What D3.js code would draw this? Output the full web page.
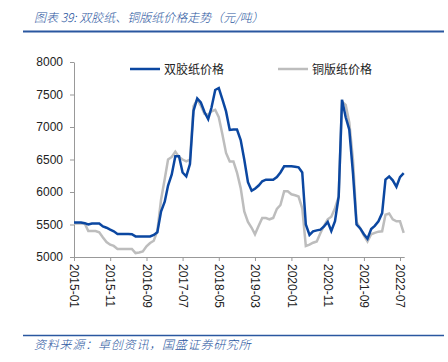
<!DOCTYPE html>
<html>
<head>
<meta charset="utf-8">
<script src="https://cdn.jsdelivr.net/npm/d3@7"></script>
<style>
  body { margin: 0; background: #fff; }
  svg { display: block; }
  .cap { font-family: "Noto Sans CJK SC", sans-serif; font-style: italic; fill: #2a56a0; font-size: 12px; font-weight: 300; }
  .axis text { font-family: "Liberation Sans", Arial, sans-serif; font-size: 12px; fill: #222; }
  .axis path, .axis line { stroke: #999; }
  .legend text { font-family: "Noto Sans CJK SC", sans-serif; font-size: 12px; fill: #222; }
</style>
</head>
<body>
<div class="chart"></div>
<script>
// monthly prices (yuan/ton), 2015-01 .. 2022-08
var startMonth = "2015-01";
var woodfree = [
  5530, 5530, 5530, 5520, 5500, 5515, 5515, 5515, 5470, 5450,
  5420, 5395, 5355, 5355, 5355, 5355, 5350, 5317, 5317, 5317,
  5317, 5317, 5340, 5380, 5700, 5850, 6100, 6270, 6550, 6550,
  6300, 6240, 6430, 7250, 7440, 7380, 7230, 7120, 7300, 7570,
  7600, 7420, 7240, 6955, 6960, 6960, 6800, 6500, 6150, 6020,
  6050, 6100, 6165, 6190, 6190, 6190, 6230, 6300, 6395, 6395,
  6395, 6390, 6380, 6300, 5500, 5340, 5395, 5410, 5420, 5470,
  5540, 5400, 5550, 5930, 7420, 7150, 6960, 6290, 5500, 5440,
  5350, 5280, 5430, 5480, 5550, 5675, 6190, 6240, 6180, 6080,
  6230, 6290
];
var coated = [
  5515, 5515, 5515, 5515, 5400, 5400, 5400, 5380, 5300, 5230,
  5190, 5170, 5125, 5125, 5125, 5125, 5125, 5060, 5070, 5085,
  5165, 5215, 5250, 5400, 5880, 6200, 6500, 6540, 6620, 6540,
  6500, 6470, 6500, 7320, 7420, 7330, 7200, 7190, 7240, 7265,
  7150, 6880, 6600, 6470, 6470, 6300, 6060, 5700, 5540, 5450,
  5350, 5480, 5600, 5600, 5580, 5600, 5740, 5800, 6010, 6010,
  5965, 5950, 5930, 5750, 5170, 5190, 5220, 5240, 5370, 5480,
  5580, 5620, 5750, 5930, 7390, 7340, 7070, 6500, 5540, 5440,
  5330, 5240, 5350, 5370, 5390, 5395, 5650, 5670, 5580, 5550,
  5550, 5370
];
var seriesNames = ["双胶纸价格", "铜版纸价格"];
var xTickLabels = ["2015-01", "2015-11", "2016-09", "2017-07", "2018-05",
  "2019-03", "2020-01", "2020-11", "2021-09", "2022-07"];
var yTicks = [5000, 5500, 6000, 6500, 7000, 7500, 8000];

var svgWidth = 448;
var svgHeight = 362;

var margin = { top: 62, left: 74 };
var width = 326;   // 2015-01 .. 2022-07
var height = 195;

var parseMonth = d3.timeParse("%Y-%m");
var fmtMonth = d3.timeFormat("%Y-%m");
var t0 = parseMonth(startMonth);
var dates = woodfree.map((v, i) => d3.timeMonth.offset(t0, i));

var svg = d3.select(".chart")
  .append("svg")
  .attr("width", svgWidth)
  .attr("height", svgHeight);

// caption + rules
svg.append("text")
  .attr("class", "cap")
  .attr("x", 34)
  .attr("y", 22)
  .text("图表 39:  双胶纸、铜版纸价格走势（元/吨）");

svg.append("line")
  .attr("x1", 23).attr("x2", 444)
  .attr("y1", 31.5).attr("y2", 31.5)
  .attr("stroke", "#2a57a0").attr("stroke-width", 2);

svg.append("line")
  .attr("x1", 23).attr("x2", 444)
  .attr("y1", 335.5).attr("y2", 335.5)
  .attr("stroke", "#2a57a0").attr("stroke-width", 1.5);

svg.append("text")
  .attr("class", "cap")
  .attr("x", 34)
  .attr("y", 349)
  .style("letter-spacing", "0.8px")
  .text("资料来源：卓创资讯，国盛证券研究所");

var chartGroup = svg.append("g")
  .attr("transform", `translate(${margin.left}, ${margin.top})`);

var xScale = d3.scaleTime()
  .domain([t0, parseMonth(xTickLabels[xTickLabels.length - 1])])
  .range([0, width]);

var yScale = d3.scaleLinear()
  .domain([5000, 8000])
  .range([height, 0]);

// axes
var bottomAxis = d3.axisBottom(xScale)
  .tickValues(xTickLabels.map(parseMonth))
  .tickFormat(fmtMonth)
  .tickSize(4)
  .tickSizeOuter(0);

var leftAxis = d3.axisLeft(yScale)
  .tickValues(yTicks)
  .tickFormat(d3.format("d"))
  .tickSize(4)
  .tickSizeOuter(0);

var xAxis = chartGroup.append("g")
  .attr("class", "axis")
  .attr("transform", `translate(0, ${height})`)
  .call(bottomAxis);

xAxis.select(".domain")
  .attr("d", `M0.5,0.5H${xScale(dates[dates.length - 1]) + 1}`);

xAxis.selectAll("text")
  .attr("transform", "rotate(90)")
  .attr("x", 7)
  .attr("y", 0)
  .attr("dy", "0.35em")
  .style("text-anchor", "start");

var yAxis = chartGroup.append("g")
  .attr("class", "axis")
  .call(leftAxis);

yAxis.selectAll("text").attr("x", -11);

// lines
var line = d3.line()
  .x((d, i) => xScale(dates[i]))
  .y(d => yScale(d));

chartGroup.append("path")
  .datum(coated)
  .attr("fill", "none")
  .attr("stroke", "#bdbdbd")
  .attr("stroke-width", 2.5)
  .attr("d", line);

chartGroup.append("path")
  .datum(woodfree)
  .attr("fill", "none")
  .attr("stroke", "#0b47a1")
  .attr("stroke-width", 2.5)
  .attr("d", line);

// legend
var legend = svg.append("g").attr("class", "legend");
var legendItems = [
  { x: 130, color: "#0b47a1", name: seriesNames[0] },
  { x: 278, color: "#bdbdbd", name: seriesNames[1] }
];
legendItems.forEach(d => {
  legend.append("line")
    .attr("x1", d.x).attr("x2", d.x + 30)
    .attr("y1", 69).attr("y2", 69)
    .attr("stroke", d.color)
    .attr("stroke-width", 2.5);
  legend.append("text")
    .attr("x", d.x + 34)
    .attr("y", 73.5)
    .text(d.name);
});
</script>
</body>
</html>
